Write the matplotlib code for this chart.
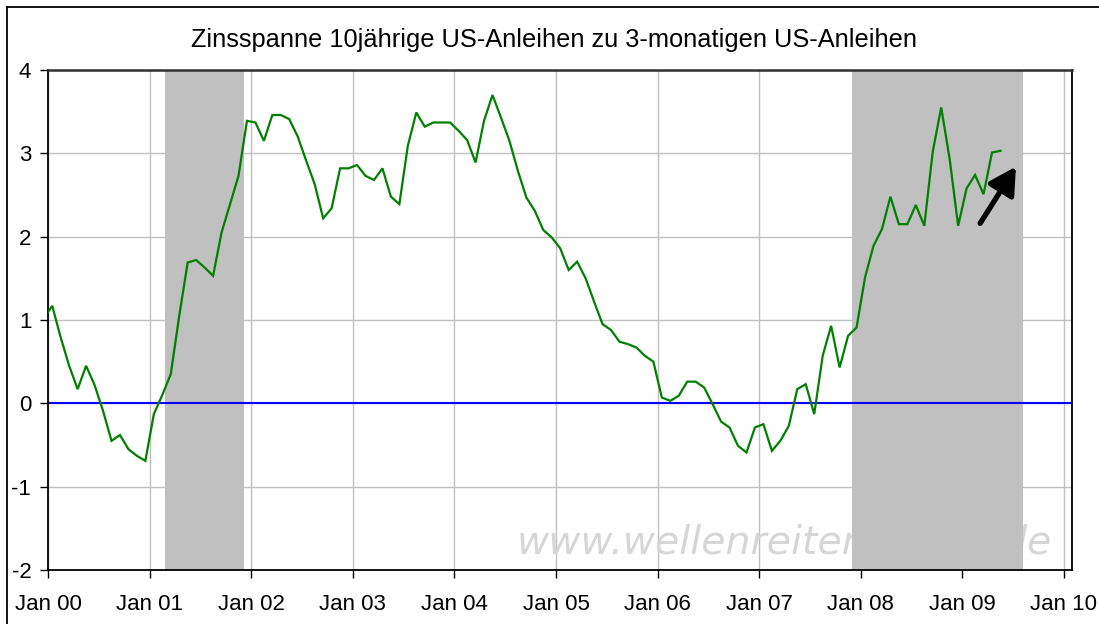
import matplotlib
matplotlib.use("Agg")
import matplotlib.pyplot as plt
from matplotlib.lines import Line2D
import numpy as np

# ---- data -------------------------------------------------------------
start_year = 1999
start_month = 12  # first value: Dec 1999, monthly afterwards
spread = [
    1.02,
    1.17, 0.79, 0.45, 0.17, 0.45, 0.22, -0.09, -0.45, -0.38, -0.55, -0.63, -0.69,   # 2000
    -0.13, 0.10, 0.35, 1.05, 1.69, 1.72, 1.63, 1.53, 2.05, 2.39, 2.73, 3.39,       # 2001
    3.37, 3.15, 3.46, 3.46, 3.41, 3.20, 2.91, 2.63, 2.22, 2.34, 2.82, 2.82,        # 2002
    2.86, 2.73, 2.68, 2.82, 2.48, 2.39, 3.09, 3.49, 3.32, 3.37, 3.37, 3.37,        # 2003
    3.27, 3.16, 2.89, 3.39, 3.70, 3.43, 3.15, 2.79, 2.47, 2.31, 2.08, 1.99,        # 2004
    1.86, 1.60, 1.70, 1.50, 1.22, 0.95, 0.88, 0.74, 0.71, 0.67, 0.57, 0.50,        # 2005
    0.07, 0.03, 0.09, 0.26, 0.26, 0.19, -0.01, -0.22, -0.29, -0.51, -0.59, -0.29,  # 2006
    -0.25, -0.57, -0.45, -0.27, 0.17, 0.23, -0.13, 0.57, 0.93, 0.43, 0.81, 0.91,   # 2007
    1.51, 1.89, 2.09, 2.48, 2.15, 2.15, 2.38, 2.13, 3.02, 3.55, 2.93, 2.13,        # 2008
    2.58, 2.74, 2.51, 3.01, 3.03,                                                  # 2009
]
recessions = [(2001.152, 2001.929), (2007.913, 2009.596)]
tick_years = list(range(2000, 2011))
tick_labels = ["Jan %02d" % (y % 100) for y in tick_years]
y_ticks = [-2, -1, 0, 1, 2, 3, 4]
arrow_from = (2009.175, 2.16)
arrow_to = (2009.527, 2.84)
title = "Zinsspanne 10jährige US-Anleihen zu 3-monatigen US-Anleihen"
watermark = "www.wellenreiter-invest.de"

# monthly points placed mid-month
x = np.array([start_year + (start_month - 1 + k + 0.5) / 12.0 for k in range(len(spread))])

# ---- figure -----------------------------------------------------------
W, H = 1099, 624
fig = plt.figure(figsize=(W / 100, H / 100), dpi=100)
fig.patch.set_facecolor("white")
plt.rcParams["font.family"] = ["Liberation Sans", "DejaVu Sans"]

L, R, T, B = 48, 1072, 70, 570
ax = fig.add_axes([L / W, 1 - B / H, (R - L) / W, (B - T) / H])

ax.set_xlim(2000, 2010.079)
ax.set_ylim(-2, 4)

# grid
for yv in y_ticks:
    ax.axhline(yv, color="#c0c0c0", lw=1.0, zorder=0.5)
for xv in tick_years:
    ax.axvline(xv, color="#c0c0c0", lw=1.0, zorder=0.5)

# watermark (behind the shading)
ax.text(0.458, 0.054, watermark, transform=ax.transAxes, fontsize=28.4,
        family="DejaVu Sans", style="italic", color="#d6d6d6",
        ha="left", va="center", zorder=0.7)

for a, b in recessions:
    ax.axvspan(a, b, color="#c0c0c0", lw=0, zorder=1)

ax.axhline(0, color="#0000ff", lw=1.5, zorder=2)
ax.plot(x, spread, color="#008000", lw=1.6, zorder=3, solid_joinstyle="miter")

ax.annotate("", xy=arrow_to, xytext=arrow_from,
            arrowprops=dict(arrowstyle="-|>,head_length=0.9,head_width=0.5",
                            lw=3.8, color="black", mutation_scale=18,
                            shrinkA=0, shrinkB=0), zorder=4)

ax.set_xticks(tick_years)
ax.set_xticklabels(tick_labels)
ax.set_yticks(y_ticks)
ax.set_yticklabels([str(v) for v in y_ticks])
ax.tick_params(axis="both", direction="out", length=6, width=1.0,
               color="black", labelsize=16, labelcolor="black")
ax.tick_params(axis="x", pad=11)
ax.tick_params(axis="y", pad=6)

for s in ax.spines.values():
    s.set_color("black")
    s.set_linewidth(1.3)
ax.spines["top"].set_color("#303030")
ax.spines["top"].set_linewidth(1.8)

fig.text(554 / W, 1 - 40 / H, title, ha="center", va="center", fontsize=18.3)

# outer chart frame (left and top edges visible)
fig.add_artist(Line2D([7 / W, 7 / W], [0, 1 - 7 / H], transform=fig.transFigure,
                      color="black", lw=1.3))
fig.add_artist(Line2D([7 / W, 1], [1 - 7 / H, 1 - 7 / H], transform=fig.transFigure,
                      color="black", lw=1.3))

fig.savefig("out.png", dpi=100, facecolor="white")
